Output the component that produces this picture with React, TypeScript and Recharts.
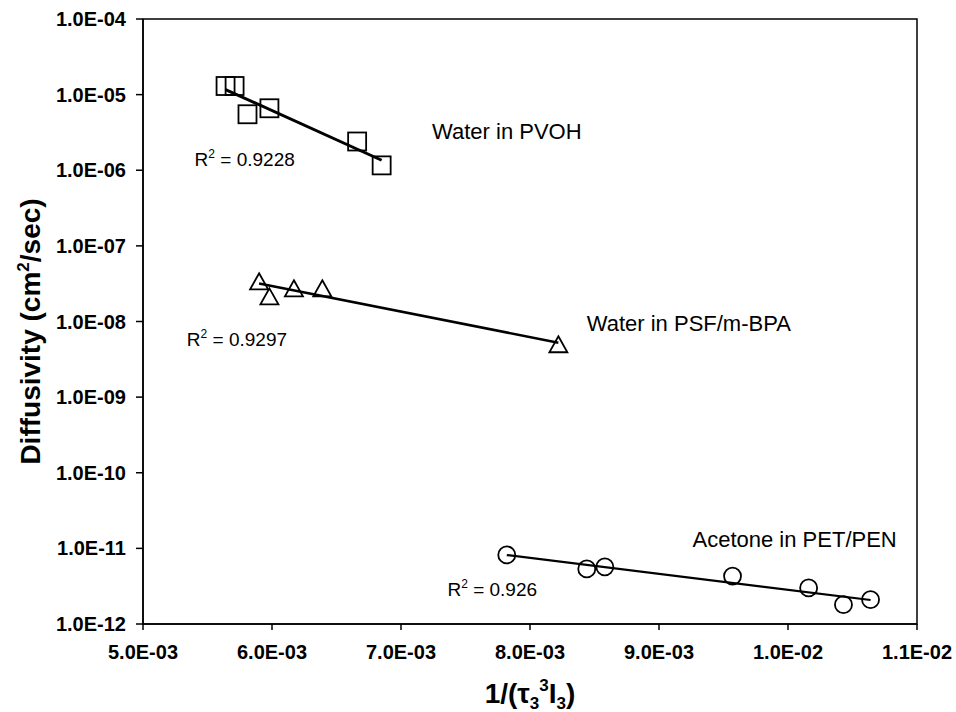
import { ScatterChart, Scatter, XAxis, YAxis, ReferenceArea, ReferenceDot, Label } from 'recharts';

// data (x = 1/(tau3^3 I3), y = diffusivity cm2/sec)
const pvohX = [0.00564, 0.00571, 0.00581, 0.00598, 0.00666, 0.00685];
const pvohY = [1.3e-5, 1.3e-5, 5.5e-6, 6.6e-6, 2.4e-6, 1.16e-6];

const psfX = [0.0059, 0.00598, 0.00617, 0.00639, 0.00822];
const psfY = [3.4e-8, 2.15e-8, 2.75e-8, 2.75e-8, 5.0e-9];

const petX = [0.00782, 0.00844, 0.00858, 0.00957, 0.01016, 0.01043, 0.01064];
const petY = [8.2e-12, 5.35e-12, 5.7e-12, 4.3e-12, 3.0e-12, 1.8e-12, 2.1e-12];

const xTicks = [0.005, 0.006, 0.007, 0.008, 0.009, 0.01, 0.011];
const yTicks = [1e-12, 1e-11, 1e-10, 1e-9, 1e-8, 1e-7, 1e-6, 1e-5, 1e-4];

const FONT = '"Liberation Sans", Arial, sans-serif';

const toPoints = (xs: number[], ys: number[]) => xs.map((x, i) => ({ x, y: ys[i] }));

// exponential trendline (least squares on log10 y), like Excel
function trend(xs: number[], ys: number[]) {
  const ly = ys.map((v) => Math.log10(v));
  const n = xs.length;
  const mx = xs.reduce((a, b) => a + b, 0) / n;
  const my = ly.reduce((a, b) => a + b, 0) / n;
  let sxy = 0;
  let sxx = 0;
  xs.forEach((x, i) => {
    sxy += (x - mx) * (ly[i] - my);
    sxx += (x - mx) * (x - mx);
  });
  const b = sxy / sxx;
  const x0 = Math.min(...xs);
  const x1 = Math.max(...xs);
  return [
    { x: x0, y: Math.pow(10, my + b * (x0 - mx)) },
    { x: x1, y: Math.pow(10, my + b * (x1 - mx)) },
  ];
}

function sci(v: number) {
  const [m, e] = v.toExponential(1).split('e');
  const n = parseInt(e, 10);
  return `${m}E${n < 0 ? '-' : '+'}${String(Math.abs(n)).padStart(2, '0')}`;
}

const Square = (p: any) => (
  <rect x={p.cx - 9} y={p.cy - 9} width={18} height={18} fill="none" stroke="#000" strokeWidth={1.8} />
);
const Triangle = (p: any) => (
  <path d={`M${p.cx},${p.cy - 8} L${p.cx + 9},${p.cy + 8} L${p.cx - 9},${p.cy + 8} Z`} fill="none" stroke="#000" strokeWidth={1.8} />
);
const Circle = (p: any) => <circle cx={p.cx} cy={p.cy} r={8.5} fill="none" stroke="#000" strokeWidth={1.8} />;
const NoShape = () => <g />;

const center = (vb: any) => ({ x: vb.x + (vb.width ?? 0) / 2, y: vb.y + (vb.height ?? 0) / 2 });

const note = (text: string, anchor: 'start' | 'end' = 'start') => (props: any) => {
  const { x, y } = center(props.viewBox);
  return (
    <text x={x} y={y} dy="0.35em" textAnchor={anchor} fontFamily={FONT} fontSize={22} fill="#000">
      {text}
    </text>
  );
};

const rsq = (value: string) => (props: any) => {
  const { x, y } = center(props.viewBox);
  return (
    <text x={x} y={y} dy="0.35em" fontFamily={FONT} fontSize={19} fill="#000">
      R
      <tspan fontSize={12} dy={-8}>2</tspan>
      <tspan dy={8}>{` = ${value}`}</tspan>
    </text>
  );
};

export default function App() {
  return (
    <div style={{ position: 'absolute', left: 0, top: 0, background: '#fff' }}>
      <ScatterChart width={956} height={712} margin={{ top: 19, right: 39, left: 0, bottom: 0 }}>
        <XAxis
          type="number"
          dataKey="x"
          domain={[0.005, 0.011]}
          ticks={xTicks}
          tickFormatter={sci}
          allowDataOverflow
          height={88}
          tickSize={6}
          tickMargin={15}
          stroke="#000"
          strokeWidth={1.5}
          tick={{ fill: '#000', fontSize: 20, fontWeight: 'bold', fontFamily: FONT }}
        >
          <Label
            content={(props: any) => {
              const vb = props.viewBox;
              return (
                <text x={vb.x + vb.width / 2} y={vb.y + 79} textAnchor="middle" fontFamily={FONT} fontSize={28} fontWeight="bold" fill="#000">
                  1/(τ
                  <tspan fontSize={17} dy={6}>3</tspan>
                  <tspan fontSize={17} dy={-18}>3</tspan>
                  <tspan dy={12}>I</tspan>
                  <tspan fontSize={17} dy={6}>3</tspan>
                  <tspan dy={-6}>)</tspan>
                </text>
              );
            }}
          />
        </XAxis>
        <YAxis
          type="number"
          dataKey="y"
          scale="log"
          domain={[1e-12, 1e-4]}
          ticks={yTicks}
          tickFormatter={sci}
          allowDataOverflow
          width={143}
          tickSize={7}
          tickMargin={10}
          stroke="#000"
          strokeWidth={1.5}
          tick={{ fill: '#000', fontSize: 20, fontWeight: 'bold', fontFamily: FONT }}
        >
          <Label
            content={(props: any) => {
              const vb = props.viewBox;
              const cy = vb.y + vb.height / 2 + 10;
              return (
                <text x={30} y={cy} transform={`rotate(-90, 30, ${cy})`} dy="0.35em" textAnchor="middle" fontFamily={FONT} fontSize={28} fontWeight="bold" fill="#000">
                  Diffusivity (cm
                  <tspan fontSize={17} dy={-11}>2</tspan>
                  <tspan dy={11}>/sec)</tspan>
                </text>
              );
            }}
          />
        </YAxis>
        <ReferenceArea x1={0.005} x2={0.011} y1={1e-12} y2={1e-4} fill="none" stroke="#000" strokeWidth={1.5} />

        <Scatter data={toPoints(pvohX, pvohY)} shape={Square} isAnimationActive={false} />
        <Scatter data={toPoints(psfX, psfY)} shape={Triangle} isAnimationActive={false} />
        <Scatter data={toPoints(petX, petY)} shape={Circle} isAnimationActive={false} />

        <Scatter data={trend(pvohX, pvohY)} shape={NoShape} line={{ stroke: '#000', strokeWidth: 3 }} isAnimationActive={false} />
        <Scatter data={trend(psfX, psfY)} shape={NoShape} line={{ stroke: '#000', strokeWidth: 2.6 }} isAnimationActive={false} />
        <Scatter data={trend(petX, petY)} shape={NoShape} line={{ stroke: '#000', strokeWidth: 2.2 }} isAnimationActive={false} />

        <ReferenceDot x={0.0084} y={3.3e-6} r={0} label={note('Water in PVOH', 'end')} />
        <ReferenceDot x={0.0054} y={1.4e-6} r={0} label={rsq('0.9228')} />
        <ReferenceDot x={0.00534} y={5.8e-9} r={0} label={rsq('0.9297')} />
        <ReferenceDot x={0.00844} y={9.4e-9} r={0} label={note('Water in PSF/m-BPA')} />
        <ReferenceDot x={0.00926} y={1.3e-11} r={0} label={note('Acetone in PET/PEN')} />
        <ReferenceDot x={0.00736} y={2.9e-12} r={0} label={rsq('0.926')} />
      </ScatterChart>
    </div>
  );
}
